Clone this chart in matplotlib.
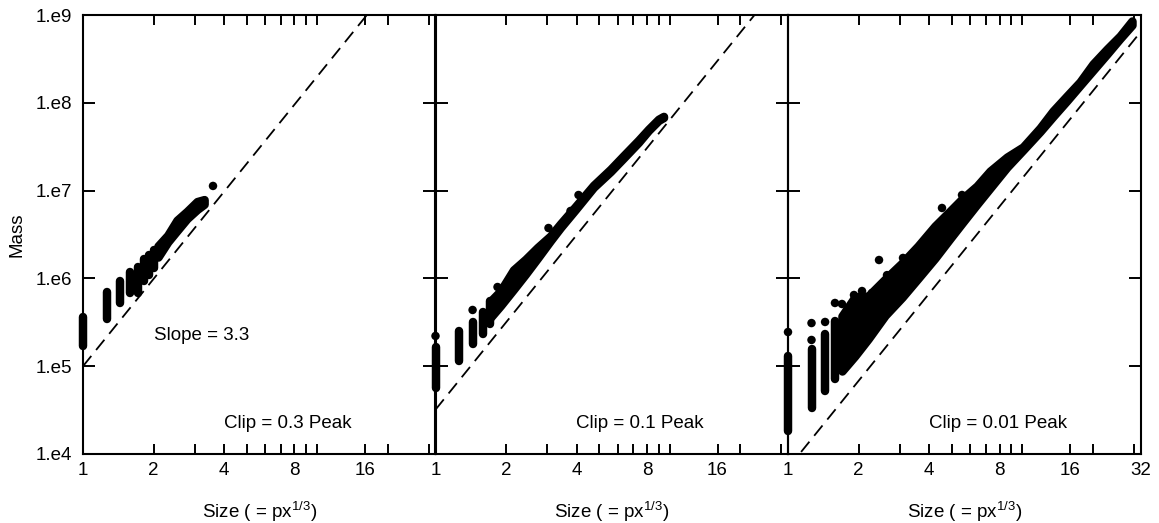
import numpy as np
import matplotlib
matplotlib.use('Agg')
import matplotlib.pyplot as plt
from matplotlib.ticker import FixedLocator, FixedFormatter, NullFormatter, NullLocator

plt.rcParams['font.family'] = ['Liberation Sans', 'DejaVu Sans']
plt.rcParams['mathtext.fontset'] = 'custom'
plt.rcParams['mathtext.rm'] = 'Liberation Sans'
plt.rcParams['lines.scale_dashes'] = False

# ---------------- data ----------------
panel_labels = ['Clip = 0.3 Peak', 'Clip = 0.1 Peak', 'Clip = 0.01 Peak']
slope = 3.3
intercepts = [1.0e5, 3.2e4, 6.9e3]

x_major = [1, 2, 4, 8, 16, 32]
x_major_labels = ['1', '2', '4', '8', '16', '32']
x_minor = [3, 5, 6, 7, 9, 10, 20, 30]
y_major = [1e4, 1e5, 1e6, 1e7, 1e8, 1e9]
y_major_labels = ['1.e4', '1.e5', '1.e6', '1.e7', '1.e8', '1.e9']

# Panel 1 (Clip = 0.3 Peak)
p1_streak_px = [1, 2, 3, 4, 5, 6, 7, 8]
p1_streak_lo = [1.7e5, 3.45e5, 5.25e5, 6.8e5, 6.9e5, 9.3e5, 1.09e6, 1.31e6]
p1_streak_hi = [3.6e5, 7.0e5, 9.3e5, 1.18e6, 1.35e6, 1.66e6, 1.85e6, 2.1e6]
p1_band_size = [2.09, 2.30, 2.52, 2.78, 3.07, 3.29]
p1_band_lo = [1.75e6, 2.60e6, 3.50e6, 4.80e6, 6.10e6, 7.0e6]
p1_band_hi = [2.34e6, 3.10e6, 4.6e6, 5.8e6, 7.5e6, 7.9e6]
p1_out_size = [3.59]
p1_out_mass = [1.13e7]

# Panel 2 (Clip = 0.1 Peak)
p2_streak_px = [1, 2, 3, 4, 5]
p2_streak_lo = [5.65e4, 1.15e5, 1.79e5, 2.33e5, 3.03e5]
p2_streak_hi = [1.65e5, 2.52e5, 3.18e5, 4.14e5, 5.53e5]
p2_band_size = [1.717, 1.895, 2.153, 2.423, 2.726, 3.098, 3.418, 3.961, 4.728,
                5.588, 6.350, 7.359, 8.119, 8.958, 9.410]
p2_band_lo = [3.6e5, 4.9e5, 7.5e5, 1.12e6, 1.70e6, 2.70e6, 3.80e6, 6.1e6, 1.09e7,
              1.65e7, 2.35e7, 3.55e7, 4.85e7, 6.3e7, 6.8e7]
p2_band_hi = [5.5e5, 7.2e5, 1.25e6, 1.65e6, 2.25e6, 3.05e6, 4.2e6, 6.6e6, 1.15e7,
              1.75e7, 2.5e7, 3.75e7, 5.0e7, 6.5e7, 7.0e7]
p2_out_size = [1.0, 1.44, 1.84, 3.037, 3.771, 4.080]
p2_out_mass = [2.21e5, 4.37e5, 7.98e5, 3.75e6, 5.86e6, 8.91e6]

# Panel 3 (Clip = 0.01 Peak)
p3_streak_px = [1, 2, 3, 4]
p3_streak_lo = [1.83e4, 3.34e4, 5.22e4, 7.15e4]
p3_streak_hi = [1.31e5, 1.57e5, 2.33e5, 3.27e5]
p3_band_size = [1.70, 1.93, 2.20, 2.60, 3.07, 3.59, 4.24, 4.92, 5.53, 6.41, 7.29,
                8.61, 10.08, 11.91, 13.54, 15.53, 17.65, 20.06, 23.02, 26.16, 29.43]
p3_band_lo = [8.82e4, 1.31e5, 2.05e5, 3.8e5, 6.1e5, 1.0e6, 1.70e6, 2.85e6, 4.25e6,
              7.0e6, 1.07e7, 1.85e7, 2.9e7, 4.7e7, 7.0e7, 1.06e8, 1.58e8, 2.35e8,
              3.6e8, 5.4e8, 7.7e8]
p3_band_hi = [3.73e5, 6.14e5, 6.30e5, 9.84e5, 1.50e6, 2.34e6, 3.95e6, 5.86e6, 8.02e6,
              1.13e7, 1.67e7, 2.41e7, 3.14e7, 5.16e7, 8.07e7, 1.20e8, 1.73e8, 2.77e8,
              4.10e8, 5.77e8, 8.55e8]
p3_out_size = [1.0, 1.26, 1.26, 1.44, 1.587, 1.70, 1.913, 2.070, 2.284, 2.447, 2.647,
               3.098, 4.545, 5.533]
p3_out_mass = [2.45e5, 3.10e5, 1.99e5, 3.19e5, 5.25e5, 5.11e5, 6.47e5, 7.18e5, 6.83e5,
               1.62e6, 1.09e6, 1.71e6, 6.34e6, 8.91e6]

panels = [
    (p1_streak_px, p1_streak_lo, p1_streak_hi, p1_band_size, p1_band_lo, p1_band_hi, p1_out_size, p1_out_mass),
    (p2_streak_px, p2_streak_lo, p2_streak_hi, p2_band_size, p2_band_lo, p2_band_hi, p2_out_size, p2_out_mass),
    (p3_streak_px, p3_streak_lo, p3_streak_hi, p3_band_size, p3_band_lo, p3_band_hi, p3_out_size, p3_out_mass),
]

# ---------------- figure ----------------
W, H = 1159, 523
fig = plt.figure(figsize=(W / 100, H / 100), dpi=100)
left_px, pw, top_px, bot_px = 83, 352.5, 15, 454
fs = 13.5
dot = 6.1  # dot diameter in points

for i, (spx, slo, shi, bsz, blo, bhi, osz, oms) in enumerate(panels):
    ax = fig.add_axes([(left_px + i * pw) / W, (H - bot_px) / H, pw / W, (bot_px - top_px) / H])
    ax.set_facecolor('none')
    ax.set_xscale('log', base=2)
    ax.set_yscale('log')
    ax.set_xlim(1, 32)
    ax.set_ylim(1e4, 1e9)

    sizes = np.array(spx, dtype=float) ** (1.0 / 3.0)
    ax.vlines(sizes, slo, shi, colors='k', linewidths=dot, capstyle='round',
              clip_on=False, zorder=3)
    ax.fill_between(bsz, blo, bhi, facecolor='k', edgecolor='k', linewidth=dot,
                    joinstyle='round', zorder=3)
    ax.scatter(osz, oms, s=dot ** 2, c='k', edgecolors='none', clip_on=False, zorder=3)

    xs = np.array([1.0, 32.0])
    ax.plot(xs, intercepts[i] * xs ** slope, color='k', lw=1.3, dashes=(9.5, 5.5), zorder=2)

    ax.xaxis.set_major_locator(FixedLocator(x_major))
    labels = list(x_major_labels)
    if i < 2:
        labels[-1] = ''
    ax.xaxis.set_major_formatter(FixedFormatter(labels))
    ax.xaxis.set_minor_locator(FixedLocator(x_minor))
    ax.xaxis.set_minor_formatter(NullFormatter())
    ax.yaxis.set_major_locator(FixedLocator(y_major))
    ax.yaxis.set_minor_locator(NullLocator())
    if i == 0:
        ax.yaxis.set_major_formatter(FixedFormatter(y_major_labels))
    else:
        ax.yaxis.set_major_formatter(NullFormatter())

    ax.tick_params(axis='both', which='both', direction='in', top=True, right=True,
                   width=1.4, labelsize=fs, colors='k')
    ax.tick_params(axis='x', which='both', length=7.5, pad=5.5)
    ax.tick_params(axis='y', which='both', length=8.5, pad=8)
    for sp in ax.spines.values():
        sp.set_linewidth(1.5)

    ax.text(0.4, 0.0592, panel_labels[i], transform=ax.transAxes, fontsize=fs,
            ha='left', va='baseline')
    ax.text(0.5, -0.1458, 'Size ( = px$^{\\mathregular{1/3}}$)', transform=ax.transAxes,
            fontsize=fs, ha='center', va='baseline')
    if i == 0:
        ax.text(0.2014, 0.2597, 'Slope = 3.3', transform=ax.transAxes, fontsize=fs,
                ha='left', va='baseline')

fig.text(17 / W, 1 - 235 / H, 'Mass', rotation=90, ha='center', va='center', fontsize=fs)

fig.savefig('out.png', dpi=100, facecolor='white')
